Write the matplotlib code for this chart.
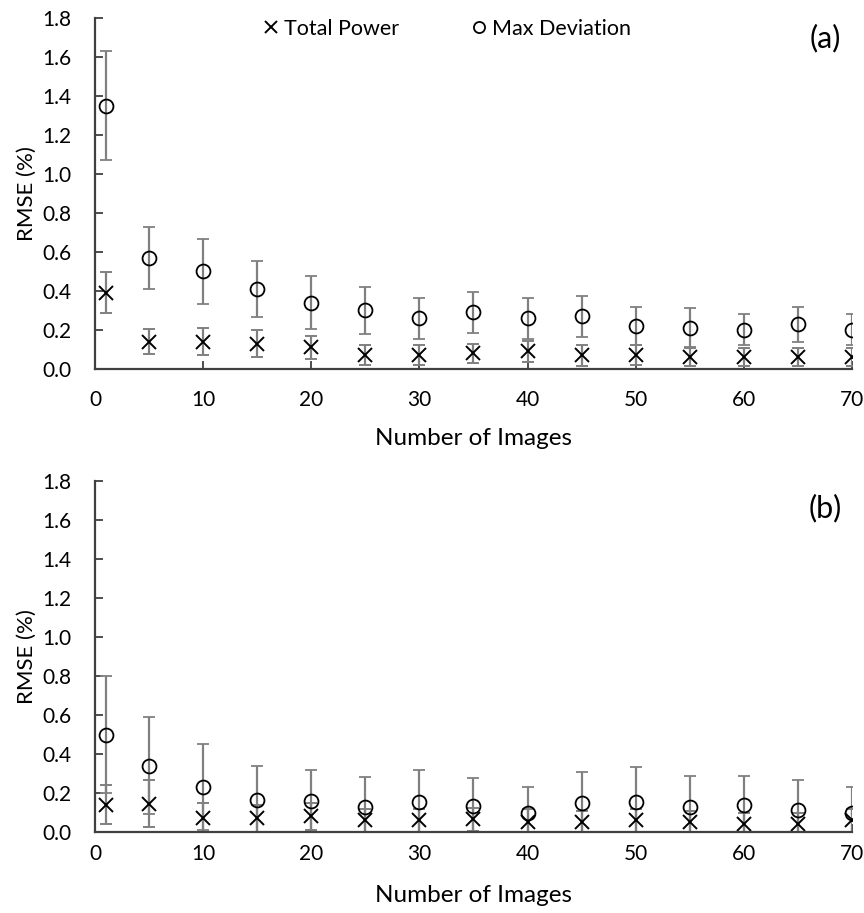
import matplotlib.pyplot as plt

plt.rcParams['font.family'] = ['Lato', 'DejaVu Sans']

n_images = [1, 5, 10, 15, 20, 25, 30, 35, 40, 45, 50, 55, 60, 65, 70]

# panel (a)
tp_a = [0.39, 0.14, 0.14, 0.13, 0.11, 0.07, 0.07, 0.08, 0.09, 0.07, 0.07, 0.06, 0.06, 0.06, 0.06]
tp_a_err = [0.105, 0.065, 0.07, 0.07, 0.06, 0.05, 0.05, 0.05, 0.055, 0.055, 0.05, 0.045, 0.045, 0.045, 0.045]
md_a = [1.35, 0.57, 0.50, 0.41, 0.34, 0.30, 0.26, 0.29, 0.26, 0.27, 0.22, 0.21, 0.20, 0.23, 0.20]
md_a_err = [0.28, 0.16, 0.165, 0.145, 0.135, 0.12, 0.105, 0.105, 0.105, 0.105, 0.095, 0.10, 0.08, 0.09, 0.08]

# panel (b)
tp_b = [0.14, 0.145, 0.07, 0.07, 0.08, 0.06, 0.06, 0.065, 0.05, 0.05, 0.06, 0.05, 0.04, 0.04, 0.06]
tp_b_err = [0.10, 0.12, 0.08, 0.07, 0.07, 0.06, 0.06, 0.06, 0.07, 0.06, 0.06, 0.06, 0.06, 0.06, 0.06]
md_b = [0.50, 0.34, 0.23, 0.165, 0.16, 0.13, 0.155, 0.135, 0.10, 0.15, 0.155, 0.13, 0.14, 0.115, 0.10]
md_b_err = [0.30, 0.25, 0.22, 0.175, 0.16, 0.15, 0.165, 0.14, 0.13, 0.16, 0.18, 0.16, 0.15, 0.15, 0.13]

x_ticks = [0, 10, 20, 30, 40, 50, 60, 70]
y_ticks = [0.0, 0.2, 0.4, 0.6, 0.8, 1.0, 1.2, 1.4, 1.6, 1.8]

err_kw = dict(ecolor='#808080', elinewidth=1.6, capsize=4.5, capthick=1.6, linestyle='none')

fig = plt.figure(figsize=(8.64, 9.13), dpi=100)
ax_a = fig.add_axes([0.110, 0.596, 0.876, 0.384])
ax_b = fig.add_axes([0.110, 0.0887, 0.876, 0.384])

def draw_panel(ax, tp, tp_err, md, md_err, tag, tag_y, xpad, xlabelpad, legend=False):
    ax.errorbar(n_images, tp, yerr=tp_err, marker='x', ms=10, mew=1.4,
                mec='black', label='Total Power', **err_kw)
    ax.errorbar(n_images, md, yerr=md_err, marker='o', ms=10, mew=1.3,
                mec='black', mfc='none', label='Max Deviation', **err_kw)
    ax.set_xlim(0, 70)
    ax.set_ylim(0, 1.8)
    ax.set_xticks(x_ticks)
    ax.set_yticks(y_ticks)
    ax.set_yticklabels([f'{v:.1f}' for v in y_ticks])
    for s in ['top', 'right']:
        ax.spines[s].set_visible(False)
    for s in ['left', 'bottom']:
        ax.spines[s].set_color('#404040')
        ax.spines[s].set_linewidth(1.6)
    ax.tick_params(direction='in', length=6, width=1.3, color='#404040',
                   labelsize=15)
    ax.tick_params(axis='y', pad=17)
    ax.tick_params(axis='x', pad=xpad)
    ax.set_xlabel('Number of Images', fontsize=17.5, labelpad=xlabelpad)
    ax.set_ylabel('RMSE (%)', fontsize=16, labelpad=4)
    ax.text(0.965, tag_y, tag, transform=ax.transAxes, fontsize=22,
            ha='center', va='center')
    if legend:
        h, l = ax.get_legend_handles_labels()
        h = [x[0] for x in h]
        ax.legend(h, l, loc='center', bbox_to_anchor=(0.466, 0.97), ncol=2,
                  frameon=False, fontsize=15.5, handlelength=0.6,
                  handletextpad=0.3, columnspacing=3.4, markerscale=0.8)

draw_panel(ax_a, tp_a, tp_a_err, md_a, md_a_err, '(a)', 0.943, 15, 13, legend=True)
draw_panel(ax_b, tp_b, tp_b_err, md_b, md_b_err, '(b)', 0.923, 8.5, 15)

fig.savefig('out.png', dpi=100)
